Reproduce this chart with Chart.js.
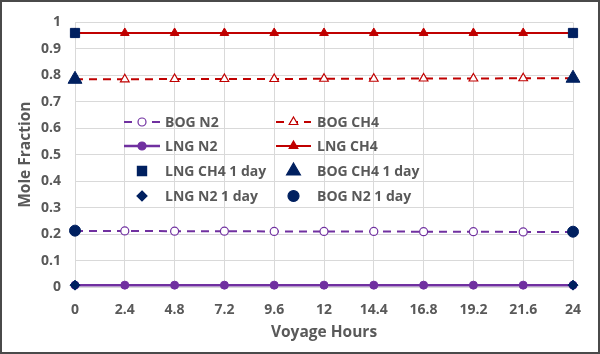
<!DOCTYPE html>
<html>
<head>
<meta charset="utf-8">
<script src="https://cdn.jsdelivr.net/npm/chart.js@4.4.1/dist/chart.umd.min.js"></script>
<style>
  html, body { margin: 0; padding: 0; background: #fff; }
  #wrap { position: relative; width: 600px; height: 354px; box-sizing: border-box; border: 2px solid #4a4a4a; }
  #moleChart { position: absolute; left: -2px; top: -2px; }
</style>
</head>
<body>
<div id="wrap"><canvas id="moleChart" width="600" height="354"></canvas></div>
<script>
const hours = ['0', '2.4', '4.8', '7.2', '9.6', '12', '14.4', '16.8', '19.2', '21.6', '24'];
const yTicks = [0, 0.1, 0.2, 0.3, 0.4, 0.5, 0.6, 0.7, 0.8, 0.9, 1];

const bogN2 = [0.212, 0.212, 0.211, 0.211, 0.210, 0.210, 0.210, 0.209, 0.209, 0.208, 0.208];
const bogCH4 = [0.785, 0.785, 0.786, 0.786, 0.786, 0.787, 0.787, 0.788, 0.788, 0.789, 0.789];
const lngN2 = [0.007, 0.007, 0.007, 0.007, 0.007, 0.007, 0.007, 0.007, 0.007, 0.007, 0.007];
const lngCH4 = [0.960, 0.960, 0.960, 0.960, 0.960, 0.960, 0.960, 0.960, 0.960, 0.960, 0.960];
const lngCH4Day = [0.960, null, null, null, null, null, null, null, null, null, 0.960];
const bogCH4Day = [0.785, null, null, null, null, null, null, null, null, null, 0.789];
const lngN2Day = [0.007, null, null, null, null, null, null, null, null, null, 0.007];
const bogN2Day = [0.213, null, null, null, null, null, null, null, null, null, 0.209];

const purple = '#7030A0';
const red = '#C00000';
const navy = '#002060';
const grey = '#595959';
const fontFam = '"Open Sans", sans-serif';

// small marker painter used for the in-plot legend
function paintMarker(ctx, style, x, y, r, fill, stroke) {
  ctx.save();
  ctx.setLineDash([]);
  ctx.beginPath();
  if (style === 'circle') {
    ctx.arc(x, y, r, 0, Math.PI * 2);
  } else if (style === 'triangle') {
    ctx.moveTo(x, y - r);
    ctx.lineTo(x + r * 0.866, y + r * 0.5);
    ctx.lineTo(x - r * 0.866, y + r * 0.5);
    ctx.closePath();
  } else if (style === 'rect') {
    const s = r * Math.SQRT1_2;
    ctx.rect(x - s, y - s, 2 * s, 2 * s);
  } else if (style === 'rectRot') {
    ctx.moveTo(x, y - r);
    ctx.lineTo(x + r, y);
    ctx.lineTo(x, y + r);
    ctx.lineTo(x - r, y);
    ctx.closePath();
  }
  ctx.fillStyle = fill;
  ctx.fill();
  ctx.lineWidth = 1.2;
  ctx.strokeStyle = stroke;
  ctx.stroke();
  ctx.restore();
}

const insideLegend = {
  id: 'insideLegend',
  afterDatasetsDraw(chart) {
    const ctx = chart.ctx;
    const cols = [{ x0: 124, x1: 160, tx: 165 }, { x0: 276, x1: 311, tx: 317 }];
    const rows = [122, 146, 171, 196];
    chart.data.datasets.forEach((ds, i) => {
      const c = cols[i % 2];
      const y = rows[Math.floor(i / 2)];
      const mid = (c.x0 + c.x1) / 2;
      ctx.save();
      if (ds.showLine !== false) {
        ctx.beginPath();
        ctx.strokeStyle = ds.borderColor;
        ctx.lineWidth = ds.borderWidth;
        ctx.setLineDash(ds.borderDash || []);
        ctx.moveTo(c.x0, y);
        ctx.lineTo(c.x1, y);
        ctx.stroke();
      }
      paintMarker(ctx, ds.pointStyle, mid, y, ds.pointRadius, ds.pointBackgroundColor, ds.pointBorderColor);
      ctx.fillStyle = grey;
      ctx.font = 'bold 14px ' + fontFam;
      ctx.textBaseline = 'middle';
      ctx.fillText(ds.label, c.tx, y + 1);
      ctx.restore();
    });
  }
};

const ctx = document.getElementById('moleChart').getContext('2d');
new Chart(ctx, {
  type: 'line',
  data: {
    labels: hours,
    datasets: [
      { label: 'BOG N2', data: bogN2, order: 1, borderColor: purple, borderWidth: 2, borderDash: [8, 6],
        pointStyle: 'circle', pointRadius: 4, pointBackgroundColor: '#fff', pointBorderColor: purple, pointBorderWidth: 1.2 },
      { label: 'BOG CH4', data: bogCH4, order: 1, borderColor: red, borderWidth: 2, borderDash: [8, 6],
        pointStyle: 'triangle', pointRadius: 5, pointBackgroundColor: '#fff', pointBorderColor: red, pointBorderWidth: 1.2 },
      { label: 'LNG N2', data: lngN2, order: 1, borderColor: purple, borderWidth: 2.5,
        pointStyle: 'circle', pointRadius: 4, pointBackgroundColor: purple, pointBorderColor: purple, pointBorderWidth: 1 },
      { label: 'LNG CH4', data: lngCH4, order: 1, borderColor: red, borderWidth: 2,
        pointStyle: 'triangle', pointRadius: 5, pointBackgroundColor: red, pointBorderColor: red, pointBorderWidth: 1 },
      { label: 'LNG CH4 1 day', data: lngCH4Day, order: 0, showLine: false, borderColor: navy,
        pointStyle: 'rect', pointRadius: 6.5, pointBackgroundColor: navy, pointBorderColor: navy, pointBorderWidth: 1 },
      { label: 'BOG CH4 1 day', data: bogCH4Day, order: 0, showLine: false, borderColor: navy,
        pointStyle: 'triangle', pointRadius: 8, pointBackgroundColor: navy, pointBorderColor: navy, pointBorderWidth: 1 },
      { label: 'LNG N2 1 day', data: lngN2Day, order: 0, showLine: false, borderColor: navy,
        pointStyle: 'rectRot', pointRadius: 5, pointBackgroundColor: navy, pointBorderColor: navy, pointBorderWidth: 1 },
      { label: 'BOG N2 1 day', data: bogN2Day, order: 0, showLine: false, borderColor: navy,
        pointStyle: 'circle', pointRadius: 5.5, pointBackgroundColor: navy, pointBorderColor: navy, pointBorderWidth: 1 }
    ]
  },
  options: {
    responsive: false,
    animation: false,
    clip: false,
    layout: { padding: { left: 0, top: 21, right: 27, bottom: 0 } },
    plugins: { legend: { display: false }, tooltip: { enabled: false } },
    scales: {
      x: {
        offset: false,
        grid: { color: '#D9D9D9', lineWidth: 1, drawTicks: false },
        border: { color: '#D9D9D9' },
        ticks: { color: grey, padding: 15, maxRotation: 0, autoSkip: false, font: { family: fontFam, size: 14, weight: 'bold' } },
        title: { display: true, text: 'Voyage Hours', color: grey, padding: { top: 4, bottom: 12 }, font: { family: fontFam, size: 15.5, weight: 'bold' } },
        afterFit: (s) => { s.height = 67; }
      },
      y: {
        min: 0,
        max: 1,
        grid: { color: '#D9D9D9', lineWidth: 1, drawTicks: false },
        border: { color: '#D9D9D9' },
        afterBuildTicks: (s) => { s.ticks = yTicks.map((v) => ({ value: v })); },
        ticks: { color: grey, padding: 14, font: { family: fontFam, size: 14, weight: 'bold' }, callback: (v) => String(v) },
        title: { display: true, text: 'Mole Fraction', color: grey, padding: { top: 16, bottom: 0 }, font: { family: fontFam, size: 15.5, weight: 'bold' } },
        afterFit: (s) => { s.width = 75; }
      }
    }
  },
  plugins: [insideLegend]
});
</script>
</body>
</html>
